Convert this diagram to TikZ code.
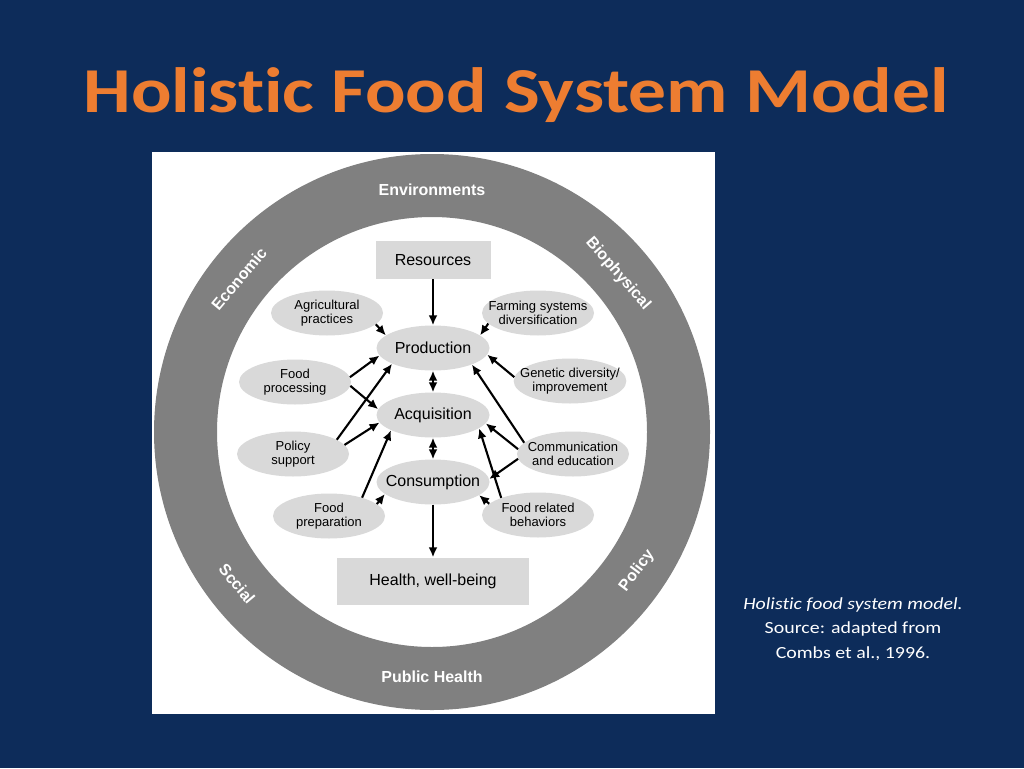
\documentclass[tikz,border=0pt]{standalone}
\usepackage{fontspec}
\setmainfont{Liberation Sans}
\newfontfamily\slidefont[Ligatures=NoCommon]{Carlito}
\usetikzlibrary{arrows.meta,shapes.geometric,positioning}
\definecolor{slidebg}{RGB}{13,44,90}
\definecolor{ringgray}{RGB}{128,128,128}
\definecolor{blobgray}{RGB}{217,217,217}
\definecolor{titleorange}{RGB}{237,125,49}

\begin{document}
\begin{tikzpicture}[x=1pt,y=-1pt,>={Latex[length=10pt,width=9pt]},
  blob/.style={ellipse,fill=blobgray,minimum width=112pt,minimum height=45pt,
    inner xsep=-10pt,inner ysep=0pt,align=center,font=\fontsize{13}{14.5}\selectfont},
  hub/.style={blob,minimum width=113pt,font=\fontsize{16}{19}\selectfont},
  box/.style={rectangle,fill=blobgray,inner sep=0pt,font=\fontsize{16}{19}\selectfont},
  ringlab/.style={text=white,font=\bfseries\fontsize{16}{19}\selectfont},
  flow/.style={->,line width=2.1pt},
  node distance=67pt]

  % slide and picture frame
  \fill[slidebg] (0,0) rectangle (1024,768);
  \fill[white] (152,152) rectangle (715,714);
  \fill[ringgray,even odd rule] (432,432) circle[radius=278pt] (432,432) circle[radius=215pt];

  \node[font=\slidefont\bfseries\fontsize{64}{70}\selectfont,text=titleorange,
    xscale=1.18,anchor=base] (title) at (516,112) {Holistic Food System Model};
  \node[font=\slidefont\fontsize{17}{24.5}\selectfont,text=white,align=center,
    xscale=1.17] (capt) at (853,629)
    {{\itshape Holistic food system model.}\\Source: adapted from\\Combs et al., 1996.};

  % labels on the ring
  \node[ringlab] (envir) at (432,190) {Environments};
  \node[ringlab] (pubh) at (432,677) {Public Health};
  \node[ringlab,rotate=50] (econ) at (239,279) {Economic};
  \node[ringlab,rotate=-49] (bioph) at (618,274) {Biophysical};
  \node[ringlab,rotate=-50] (socl) at (237,584) {Sccial};
  \node[ringlab,rotate=53] (polic) at (637,571) {Policy};

  % main chain
  \node[box,minimum width=115pt,minimum height=38pt] (res) at (433,260) {Resources};
  \node[hub] (prod) at (433,348) {Production};
  \node[hub] (acq) [below of=prod] {Acquisition};
  \node[hub] (cons) [below of=acq] {Consumption};
  \node[box,minimum width=192pt,minimum height=47pt] (hlth) at (433,581) {Health, well-being};

  % influences
  \node[blob] (agri) at (327,313) {Agricultural\\practices};
  \node[blob] (farm) at (538,313) {Farming systems\\diversification};
  \node[blob] (fproc) at (295,382) {Food\\processing};
  \node[blob] (genet) at (570,381) {Genetic diversity/\\improvement};
  \node[blob] (polsup) at (293,454) {Policy\\support};
  \node[blob] (comm) at (573,454) {Communication\\and education};
  \node[blob] (fprep) at (329,516) {Food\\preparation};
  \node[blob] (frel) at (538,515) {Food related\\behaviors};

  \draw[flow] (res) -- (prod);
  \draw[flow,<->] (prod) -- (acq);
  \draw[flow,<->] (acq) -- (cons);
  \draw[flow] (cons) -- (hlth);
  \draw[flow] (agri.-13) -- (prod.165);
  \draw[flow] (farm.192) -- (prod.15);
  \draw[flow] (fproc.5) -- (prod.188);
  \draw[flow] (fproc.-4) -- (acq.174);
  \draw[flow] (polsup.18) -- (prod.201);
  \draw[flow] (polsup.10) -- (acq.188);
  \draw[flow] (fprep.29) -- (acq.200);
  \draw[flow] (fprep.14) -- (cons.194);
  \draw[flow] (genet.176) -- (prod.-7);
  \draw[flow] (comm.167) -- (prod.-23);
  \draw[flow] (comm.175) -- (acq.-9);
  \draw[flow] (comm.185) -- (cons.3);
  \draw[flow] (frel.155) -- (acq.-16);
  \draw[flow] (frel.167) -- (cons.-16);
\end{tikzpicture}
\end{document}
